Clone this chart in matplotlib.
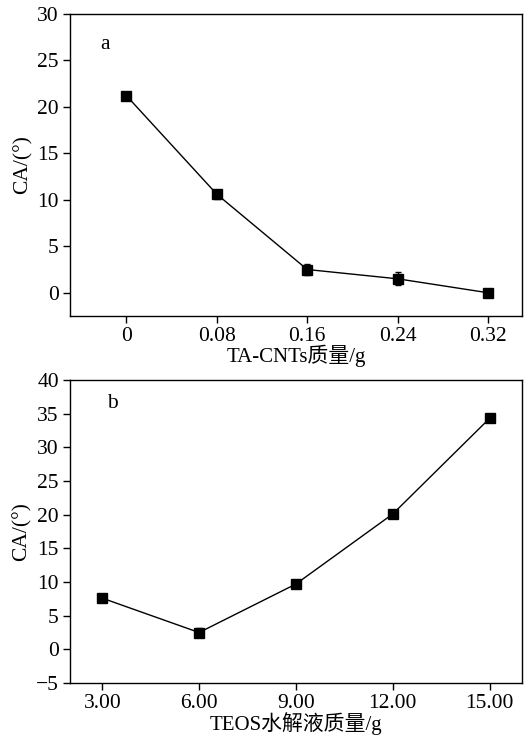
import matplotlib.pyplot as plt
import numpy as np

plt.rcParams['font.family'] = ['Liberation Serif', 'Noto Sans CJK SC']
plt.rcParams['axes.unicode_minus'] = True

# panel a
mass_a = [0, 0.08, 0.16, 0.24, 0.32]
ca_a = [21.2, 10.6, 2.5, 1.5, 0.0]
err_a = [0.4, 0.5, 0.6, 0.7, 0.1]
ticks_a = ['0', '0.08', '0.16', '0.24', '0.32']

# panel b
mass_b = [3, 6, 9, 12, 15]
ca_b = [7.6, 2.5, 9.7, 20.1, 34.3]
err_b = [0.5, 0.7, 0.5, 0.5, 0.6]
ticks_b = ['3.00', '6.00', '9.00', '12.00', '15.00']

fig = plt.figure(figsize=(5.25, 7.36), dpi=100)
ax1 = fig.add_axes([0.1333, 0.5707, 0.8607, 0.4103])
ax2 = fig.add_axes([0.1333, 0.072, 0.8607, 0.4117])

def draw(ax, x, y, e, labels, xlabel, tag, tagpos):
    ax.errorbar(x, y, yerr=e, color='black', marker='s', markersize=6.5,
                linewidth=1, capsize=2.5, elinewidth=1, capthick=1)
    ax.set_xticks(x)
    ax.set_xticklabels(labels)
    ax.set_xlabel(xlabel, fontsize=15, labelpad=-1)
    ax.set_ylabel('CA/(°)', fontsize=15.5, labelpad=3)
    ax.tick_params(labelsize=15.5, direction='out', length=5, width=1,
                   top=False, right=False, pad=3)
    for s in ax.spines.values():
        s.set_linewidth(1)
    ax.text(tagpos[0], tagpos[1], tag, transform=ax.transAxes,
            fontsize=15.5, ha='center', va='center')

draw(ax1, mass_a, ca_a, err_a, ticks_a, 'TA-CNTs质量/g', 'a', (0.077, 0.90))
ax1.set_xlim(-0.05, 0.35)
ax1.set_ylim(-2.5, 30)
ax1.set_yticks(np.arange(0, 31, 5))

draw(ax2, mass_b, ca_b, err_b, ticks_b, 'TEOS水解液质量/g', 'b', (0.095, 0.924))
ax2.set_xlim(2, 16)
ax2.set_ylim(-5, 40)
ax2.set_yticks(np.arange(-5, 41, 5))

fig.savefig('out.png', dpi=100)
